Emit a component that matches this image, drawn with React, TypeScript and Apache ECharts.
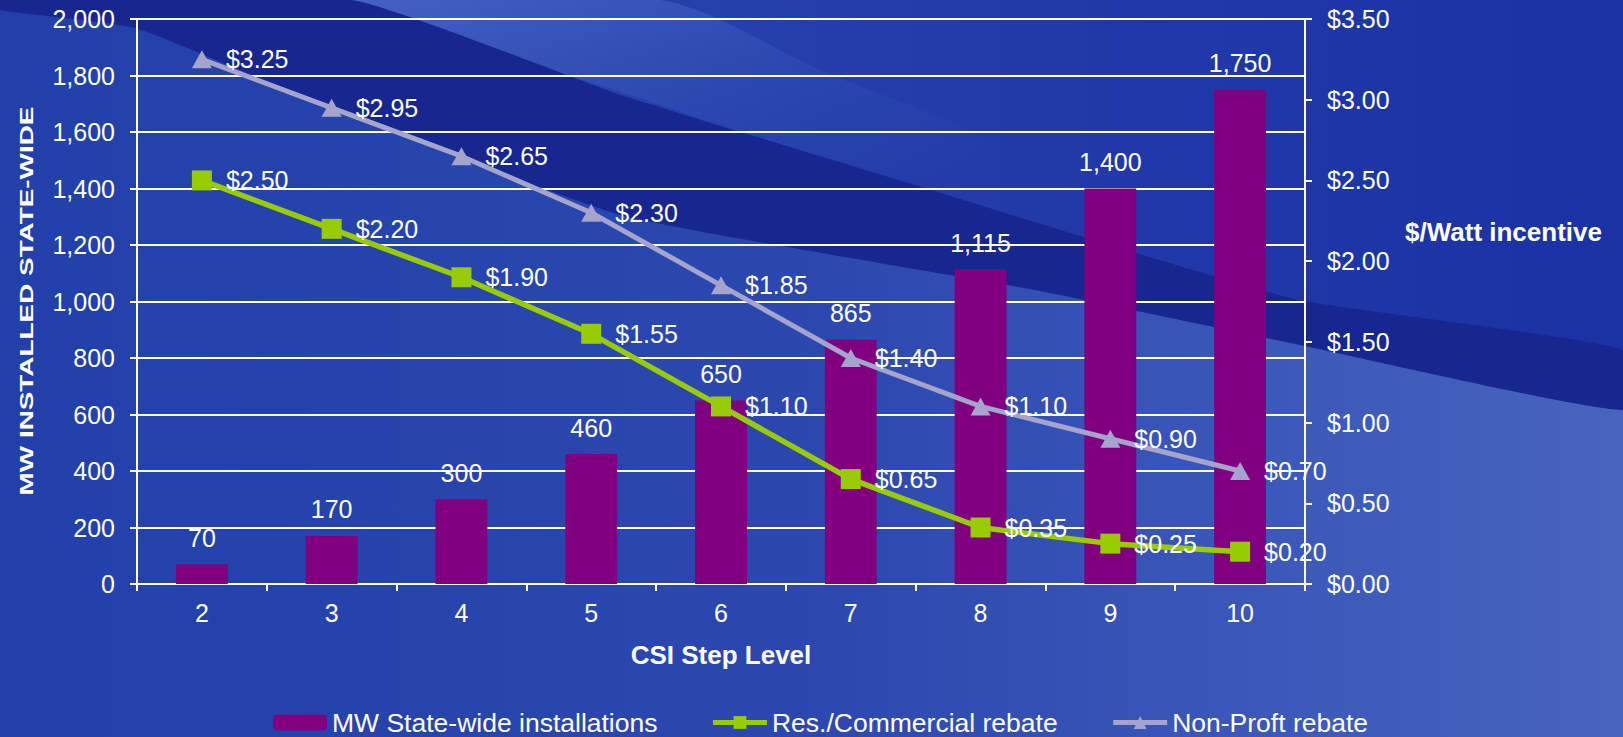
import React, { useEffect, useRef } from "react";
import * as echarts from "echarts";

// CSI step levels and the values plotted against them
const steps = ["2", "3", "4", "5", "6", "7", "8", "9", "10"];
const mwInstalled = [70, 170, 300, 460, 650, 865, 1115, 1400, 1750];
const resCommercialRebate = [2.5, 2.2, 1.9, 1.55, 1.1, 0.65, 0.35, 0.25, 0.2];
const nonProfitRebate = [3.25, 2.95, 2.65, 2.3, 1.85, 1.4, 1.1, 0.9, 0.7];

const seriesNames = [
  "MW State-wide installations",
  "Res./Commercial rebate",
  "Non-Proft rebate",
];

const FONT = "'Liberation Sans', Arial, Helvetica, sans-serif";
const WHITE = "#ffffff";

const money = (v: number) => "$" + v.toFixed(2);
const thousands = (v: number) => v.toLocaleString("en-US");

// Decorative backdrop: a dark diagonal swoosh with a highlight along its upper edge
const backdrop = [
  {
    type: "polygon",
    z: -30,
    silent: true,
    shape: {
      points: [
        [352, 0], [1623, 0], [1623, 350], [1300, 300], [1035, 222], [932, 190], [621, 95],
      ],
      smooth: 0.15,
    },
    style: {
      fill: new echarts.graphic.LinearGradient(0, 0, 1, 0, [
        { offset: 0, color: "#2a45ae" },
        { offset: 1, color: "#1b31a4" },
      ]),
    },
  },
  {
    type: "polygon",
    z: -25,
    silent: true,
    shape: {
      points: [[352, 0], [660, 0], [820, 70], [1000, 150], [900, 175], [621, 92]],
      smooth: 0.3,
    },
    style: {
      fill: new echarts.graphic.LinearGradient(0, 0, 1, 1, [
        { offset: 0, color: "rgba(72,100,200,0.95)" },
        { offset: 1, color: "rgba(42,69,174,0)" },
      ]),
    },
  },
  {
    type: "polygon",
    z: -20,
    silent: true,
    shape: {
      points: [
        [0, 0], [352, 0], [621, 95], [932, 190], [1035, 222], [1300, 300], [1623, 350],
        [1623, 410], [1300, 345], [1035, 290], [621, 215], [300, 95], [135, 28], [0, 10],
      ],
      smooth: 0.15,
    },
    style: { fill: "#18268f" },
  },
];

const option = {
  animation: false,
  backgroundColor: new echarts.graphic.LinearGradient(0, 0, 1, 0, [
    { offset: 0, color: "#2240aa" },
    { offset: 0.5, color: "#2c48b0" },
    { offset: 1, color: "#4864bf" },
  ]),
  textStyle: { fontFamily: FONT },
  grid: { left: 137, right: 318, top: 19, bottom: 153, containLabel: false },
  legend: {
    data: seriesNames,
    left: 268,
    top: 704,
    itemWidth: 54,
    itemHeight: 16,
    itemGap: 53,
    lineStyle: { width: 5 },
    textStyle: { color: WHITE, fontSize: 26.5, fontFamily: FONT },
  },
  graphic: [
    ...backdrop,
    {
      type: "text",
      x: 27,
      y: 301,
      rotation: Math.PI / 2,
      scaleX: 1.55,
      style: {
        text: "MW INSTALLED STATE-WIDE",
        fill: WHITE,
        font: `bold 18px ${FONT}`,
        textAlign: "center",
        textVerticalAlign: "middle",
      },
    },
    {
      type: "text",
      x: 1405,
      y: 232,
      style: {
        text: "$/Watt incentive",
        fill: WHITE,
        font: `bold 26px ${FONT}`,
        textAlign: "left",
        textVerticalAlign: "middle",
      },
    },
    {
      type: "text",
      x: 721,
      y: 655,
      style: {
        text: "CSI Step Level",
        fill: WHITE,
        font: `bold 26px ${FONT}`,
        textAlign: "center",
        textVerticalAlign: "middle",
      },
    },
  ],
  xAxis: {
    type: "category",
    data: steps,
    boundaryGap: true,
    axisLine: { show: true, lineStyle: { color: WHITE, width: 2 } },
    axisTick: { show: true, length: 7, alignWithLabel: false, lineStyle: { color: WHITE, width: 2 } },
    axisLabel: { color: WHITE, fontSize: 25, margin: 16, fontFamily: FONT },
    splitLine: { show: false },
  },
  yAxis: [
    {
      type: "value",
      min: 0,
      max: 2000,
      interval: 200,
      position: "left",
      axisLine: { show: true, lineStyle: { color: WHITE, width: 2 } },
      axisTick: { show: true, length: 7, lineStyle: { color: WHITE, width: 2 } },
      axisLabel: { color: WHITE, fontSize: 25, margin: 22, fontFamily: FONT, formatter: thousands },
      splitLine: { show: true, lineStyle: { color: WHITE, width: 2 } },
    },
    {
      type: "value",
      min: 0,
      max: 3.5,
      interval: 0.5,
      position: "right",
      axisLine: { show: true, lineStyle: { color: WHITE, width: 2 } },
      axisTick: { show: true, length: 7, lineStyle: { color: WHITE, width: 2 } },
      axisLabel: { color: WHITE, fontSize: 25, margin: 22, fontFamily: FONT, formatter: money },
      splitLine: { show: false },
    },
  ],
  series: [
    {
      name: seriesNames[0],
      type: "bar",
      data: mwInstalled,
      barWidth: "40%",
      itemStyle: { color: "#800080" },
      label: {
        show: true,
        position: "top",
        distance: 14,
        color: WHITE,
        fontSize: 25,
        fontFamily: FONT,
        formatter: (p: any) => thousands(p.value),
      },
      z: 2,
    },
    {
      name: seriesNames[1],
      type: "line",
      yAxisIndex: 1,
      data: resCommercialRebate,
      symbol: "rect",
      symbolSize: 20,
      lineStyle: { color: "#99cc00", width: 5.5 },
      itemStyle: { color: "#99cc00" },
      label: {
        show: true,
        position: "right",
        distance: 14,
        color: WHITE,
        fontSize: 25,
        fontFamily: FONT,
        formatter: (p: any) => money(p.value),
      },
      z: 3,
    },
    {
      name: seriesNames[2],
      type: "line",
      yAxisIndex: 1,
      data: nonProfitRebate,
      symbol: "triangle",
      symbolSize: [20, 18],
      lineStyle: { color: "#a4a4cc", width: 5 },
      itemStyle: { color: "#a4a4cc" },
      label: {
        show: true,
        position: "right",
        distance: 14,
        color: WHITE,
        fontSize: 25,
        fontFamily: FONT,
        formatter: (p: any) => money(p.value),
      },
      z: 3,
    },
  ],
};

export default function App() {
  const ref = useRef<HTMLDivElement>(null);
  useEffect(() => {
    if (!ref.current) return;
    const chart = echarts.init(ref.current, null, { renderer: "svg" });
    chart.setOption(option as any);
    return () => chart.dispose();
  }, []);
  return (
    <div
      ref={ref}
      style={{ position: "fixed", left: 0, top: 0, width: 1623, height: 737 }}
    />
  );
}
